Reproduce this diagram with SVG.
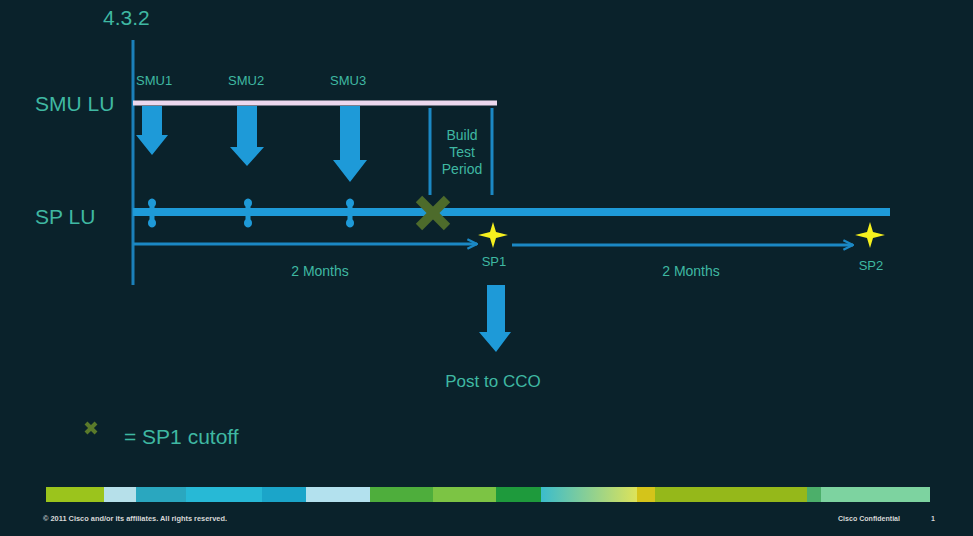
<svg xmlns="http://www.w3.org/2000/svg" width="973" height="536" viewBox="0 0 973 536">
<defs>
<style>
.t{font-family:"Liberation Sans",Arial,sans-serif;fill:#3fb8a2}
.big{font-size:21px}
.sm{font-size:13px}
.mid{font-size:14px}
.blue{fill:#1e9ad8}
.axis{stroke:#1b80ba;stroke-width:3;fill:none}
.time{stroke:#1b88c4;stroke-width:3;fill:none}
.tick{stroke:#1e9ad8;stroke-width:5;stroke-linecap:round}
.bulb{fill:#1e9ad8}
.xm{stroke:#4d6b2b;stroke-width:9;stroke-linecap:butt}
.star{fill:#f5f01e}
.foot{font-family:"Liberation Sans",Arial,sans-serif;font-size:7px;font-weight:bold;fill:#d8d8d8}
</style>
<marker id="ah" viewBox="0 0 10 10" refX="9" refY="5" markerWidth="4" markerHeight="4" orient="auto">
<path d="M1,1 L9,5 L1,9" fill="none" stroke="#1b88c4" stroke-width="2"/>
</marker>
<path id="star" d="M0,-13 L3,-3 L15,0 L3,3 L0,13 L-3,3 L-15,0 L-3,-3 Z"/>
<g id="tk">
<line class="tick" x1="0" y1="-12" x2="0" y2="12"/>
<circle class="bulb" cx="0" cy="-10" r="4"/>
<circle class="bulb" cx="0" cy="10" r="4"/>
</g>
</defs>
<rect width="973" height="536" fill="#0a222b"/>

<text id="title" class="t big" x="103" y="25">4.3.2</text>

<g id="connectors">
<line class="axis" x1="133" y1="40" x2="133" y2="285"/>
<line class="time" x1="133" y1="244" x2="477" y2="244" marker-end="url(#ah)"/>
<line class="time" x1="512" y1="245" x2="853" y2="245" marker-end="url(#ah)"/>
<line x1="430" y1="108" x2="430" y2="195" stroke="#1b88c4" stroke-width="3"/>
<line x1="492" y1="108" x2="492" y2="195" stroke="#1b88c4" stroke-width="3"/>
</g>

<g id="smu-lu">
<text class="t big" x="35" y="111">SMU LU</text>
<line x1="133" y1="103" x2="497" y2="103" stroke="#ecd8ee" stroke-width="5"/>
</g>

<g id="sp-lu">
<text class="t big" x="35" y="224">SP LU</text>
<line x1="133" y1="212" x2="890" y2="212" stroke="#1e9ad8" stroke-width="8"/>
</g>

<g id="smu1">
<text class="t sm" x="136" y="85">SMU1</text>
<polygon class="blue" points="142,106 162,106 162,135 168,135 152,155 136,135 142,135"/>
<use href="#tk" x="152" y="213"/>
</g>
<g id="smu2">
<text class="t sm" x="228" y="85">SMU2</text>
<polygon class="blue" points="237,106 257,106 257,147 264,147 247,166 230,147 237,147"/>
<use href="#tk" x="248" y="213"/>
</g>
<g id="smu3">
<text class="t sm" x="330" y="85">SMU3</text>
<polygon class="blue" points="340,106 360,106 360,160 367,160 350,182 333,160 340,160"/>
<use href="#tk" x="350" y="213"/>
</g>

<g id="build-test">
<text class="t mid" text-anchor="middle" x="462" y="140">Build</text>
<text class="t mid" text-anchor="middle" x="462" y="157">Test</text>
<text class="t mid" text-anchor="middle" x="462" y="174">Period</text>
</g>

<g id="cutoff">
<line class="xm" x1="419" y1="199" x2="447" y2="227"/>
<line class="xm" x1="447" y1="199" x2="419" y2="227"/>
</g>

<g id="sp1">
<use href="#star" class="star" x="493" y="235"/>
<text class="t sm" text-anchor="middle" x="494" y="266">SP1</text>
</g>
<g id="sp2">
<use href="#star" class="star" x="870" y="235"/>
<text class="t sm" text-anchor="middle" x="871" y="270">SP2</text>
</g>

<text id="months1" class="t mid" text-anchor="middle" x="320" y="276">2 Months</text>
<text id="months2" class="t mid" text-anchor="middle" x="691" y="276">2 Months</text>

<g id="post">
<polygon class="blue" points="487,285 505,285 505,332 511,332 496,352 479,332 487,332"/>
<text class="t" font-size="17" text-anchor="middle" x="493" y="387">Post to CCO</text>
</g>

<g id="legend">
<line x1="86" y1="423" x2="96" y2="433" stroke="#5a7a2a" stroke-width="4"/>
<line x1="96" y1="423" x2="86" y2="433" stroke="#5a7a2a" stroke-width="4"/>
<text class="t" font-size="21" x="124" y="444">= SP1 cutoff</text>
</g>

<g id="colorbar">
<defs>
<linearGradient id="g1" x1="0" x2="1" y1="0" y2="0">
<stop offset="0" stop-color="#3bbccc"/>
<stop offset="1" stop-color="#dde35a"/>
</linearGradient>
</defs>
<rect x="46" y="487" width="58" height="15" fill="#9bc41c"/>
<rect x="104" y="487" width="32" height="15" fill="#b6e0ea"/>
<rect x="136" y="487" width="50" height="15" fill="#2aa7bf"/>
<rect x="186" y="487" width="76" height="15" fill="#27b9d6"/>
<rect x="262" y="487" width="44" height="15" fill="#1ba5c9"/>
<rect x="306" y="487" width="64" height="15" fill="#b3e1ee"/>
<rect x="370" y="487" width="63" height="15" fill="#4eae3c"/>
<rect x="433" y="487" width="63" height="15" fill="#7cc444"/>
<rect x="496" y="487" width="45" height="15" fill="#1e9a3c"/>
<rect x="541" y="487" width="96" height="15" fill="url(#g1)"/>
<rect x="637" y="487" width="18" height="15" fill="#d4c41a"/>
<rect x="655" y="487" width="152" height="15" fill="#95b81a"/>
<rect x="807" y="487" width="14" height="15" fill="#4caf6a"/>
<rect x="821" y="487" width="109" height="15" fill="#7dd3a0"/>
</g>

<g id="footer">
<text class="foot" x="43" y="521" textLength="184" lengthAdjust="spacingAndGlyphs">© 2011 Cisco and/or its affiliates. All rights reserved.</text>
<text class="foot" x="838" y="521" textLength="62" lengthAdjust="spacingAndGlyphs">Cisco Confidential</text>
<text class="foot" x="931" y="521">1</text>
</g>
</svg>
